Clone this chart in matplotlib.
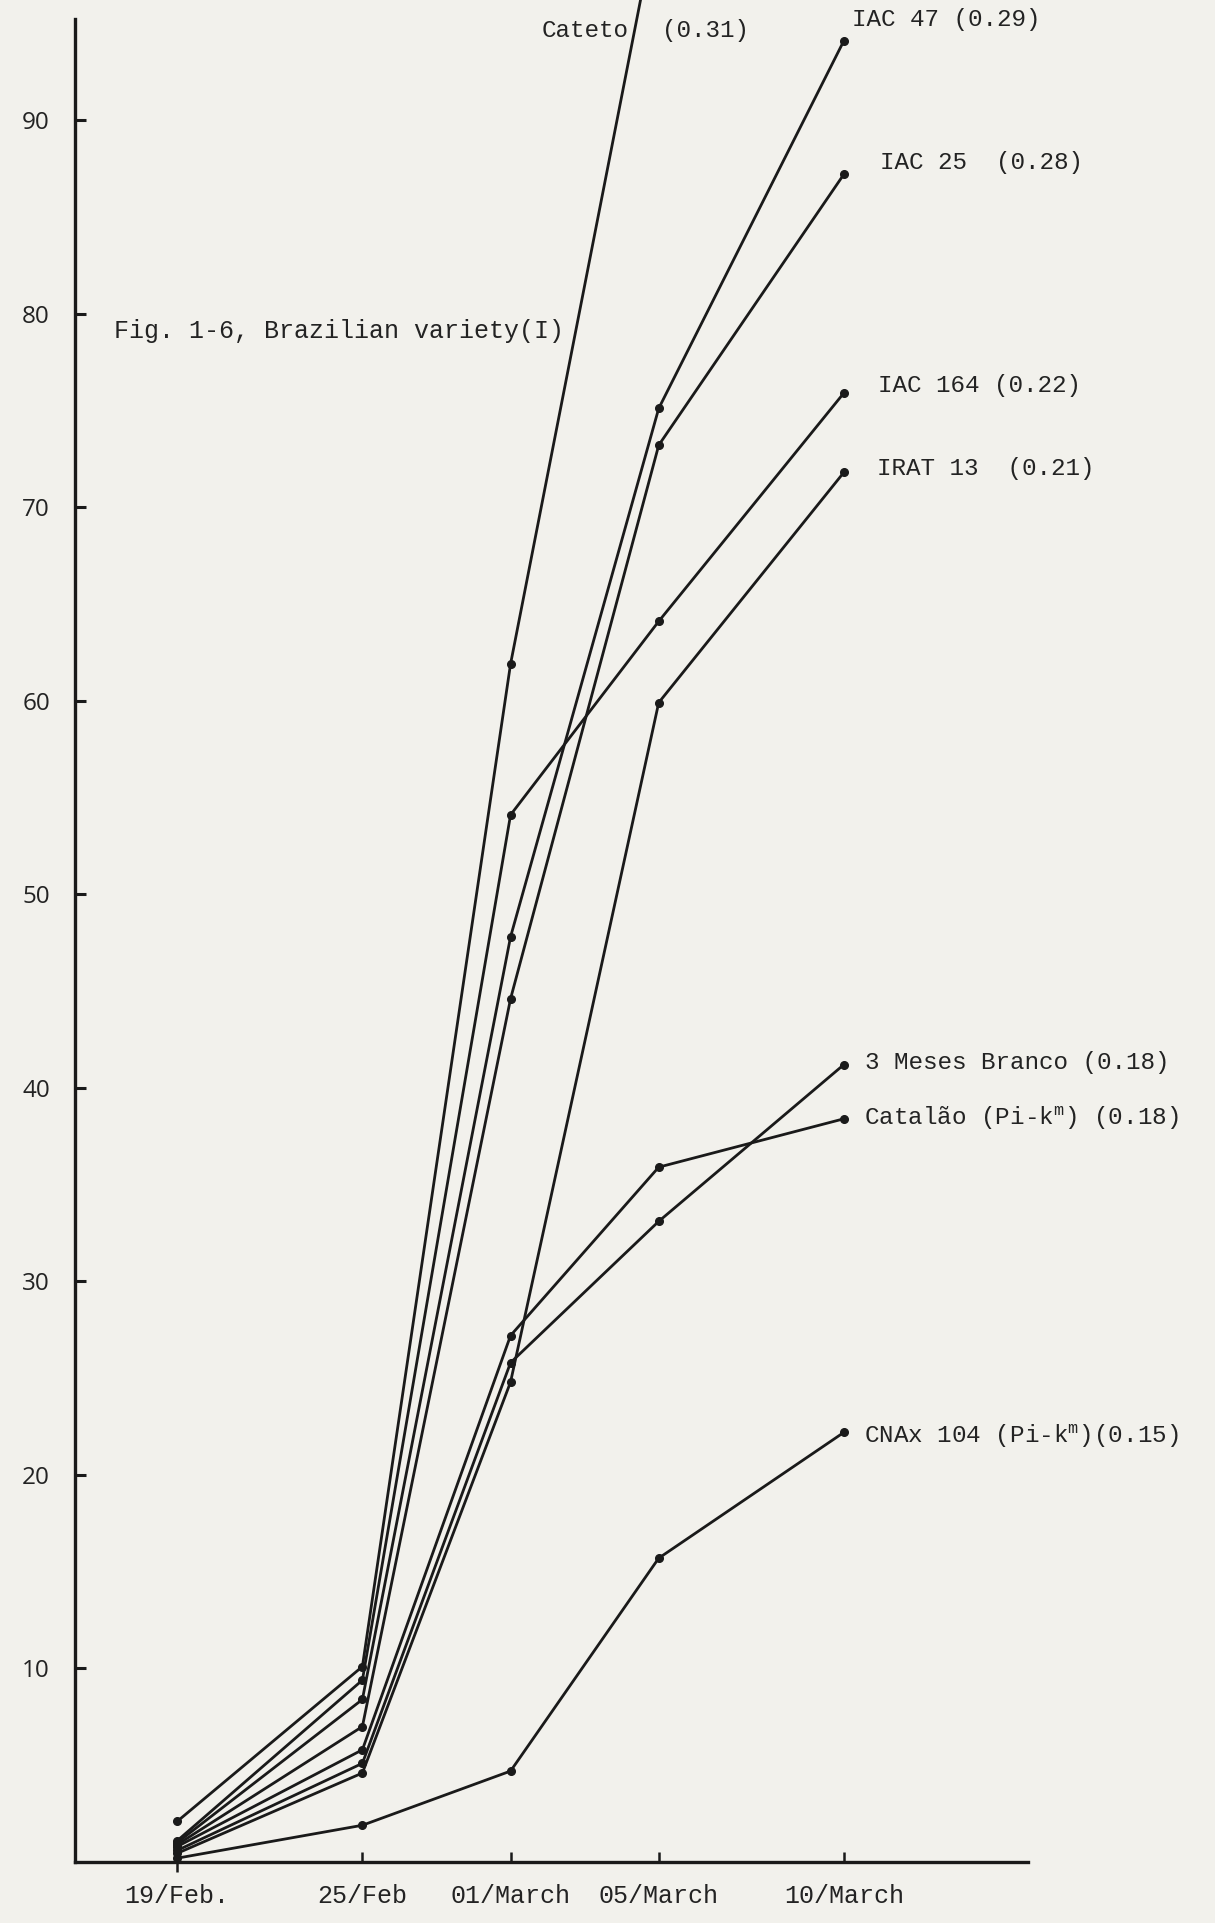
import numpy as np
import matplotlib.pyplot as plt
import matplotlib.lines as mlines

# data
dates = ["19/Feb.", "25/Feb", "01/March", "05/March", "10/March"]
obs_day = [0, 5, 9, 13, 18]   # spacing used on the printed axis

cateto = [2.1, 10.1, 61.9, 101.0, np.nan]
iac47 = [1.0, 8.4, 47.8, 75.1, 94.1]
iac25 = [0.9, 7.0, 44.6, 73.2, 87.2]
iac164 = [1.1, 9.4, 54.1, 64.1, 75.9]
irat13 = [0.45, 4.6, 24.8, 59.9, 71.8]
meses3 = [0.6, 5.1, 25.8, 33.1, 41.2]
catalao = [0.8, 5.8, 27.2, 35.9, 38.4]
cnax104 = [0.2, 1.9, 4.7, 15.7, 22.2]

y_ticks = [10, 20, 30, 40, 50, 60, 70, 80, 90]

series = [cateto, iac47, iac25, iac164, irat13, meses3, catalao, cnax104]

# labels + where they sit (data coords)
labels = [
    ("IAC 47 (0.29)", 18.23, 95.2),
    ("IAC 25  (0.28)", 18.98, 87.8),
    ("IAC 164 (0.22)", 18.93, 76.3),
    ("IRAT 13  (0.21)", 18.88, 72.0),
    ("3 Meses Branco (0.18)", 18.58, 41.3),
    ("Catal\u00e3o (Pi-k$^\\mathrm{m}$) (0.18)", 18.55, 38.4),
    ("CNAx 104 (Pi-k$^\\mathrm{m}$)(0.15)", 18.53, 22.0),
]

plt.rcParams["mathtext.fontset"] = "custom"
plt.rcParams["mathtext.rm"] = "Liberation Mono"
plt.rcParams["mathtext.it"] = "Liberation Mono"

paper = "#f2f1ec"
ink = "#1a1a1a"
txt = "#232323"
mono = "Liberation Mono"

fig = plt.figure(figsize=(12.15, 19.23), dpi=100, facecolor=paper)
ax = fig.add_axes([0.0617, 0.0317, 0.7844, 0.9683], facecolor=paper)

for vals in series:
    ax.plot(obs_day, vals, color=ink, lw=2.0, marker="o", ms=5.5,
            markerfacecolor=ink, markeredgecolor=ink, solid_capstyle="round")

for s, x, y in labels:
    ax.text(x, y, s, fontsize=17.5, family=mono, color=txt, ha="left", va="center")

# Cateto label is split by its own line
ax.text(12.2, 94.6, "Cateto", fontsize=17.5, family=mono, color=txt, ha="right", va="center")
ax.text(13.1, 94.6, "(0.31)", fontsize=17.5, family=mono, color=txt, ha="left", va="center")

ax.text(-1.70, 79.1, "Fig. 1-6, Brazilian variety(I)", fontsize=18, family=mono,
        color=txt, ha="left", va="center")

ax.set_xlim(-2.76, 22.97)
ax.set_ylim(0, 96.2)

ax.spines["top"].set_visible(False)
ax.spines["right"].set_visible(False)
ax.spines["left"].set_bounds(0, 95.2)
for sp in ["left", "bottom"]:
    ax.spines[sp].set_linewidth(2.4)
    ax.spines[sp].set_color(ink)

ax.set_xticks(obs_day)
ax.set_xticklabels(dates, family=mono, fontsize=18, color=txt)
ax.set_yticks(y_ticks)
ax.set_yticklabels([str(v) for v in y_ticks], family="Open Sans", fontsize=17.5, color=txt)

ax.tick_params(axis="x", direction="in", length=7, width=1.8, color=ink, pad=16)
ax.tick_params(axis="y", direction="in", length=8, width=2.2, color=ink, pad=18)
# first date tick hangs below the axis in the original
ax.xaxis.get_major_ticks()[0].tick1line.set_marker(mlines.TICKDOWN)

fig.savefig("out.png", dpi=100, facecolor=paper)
